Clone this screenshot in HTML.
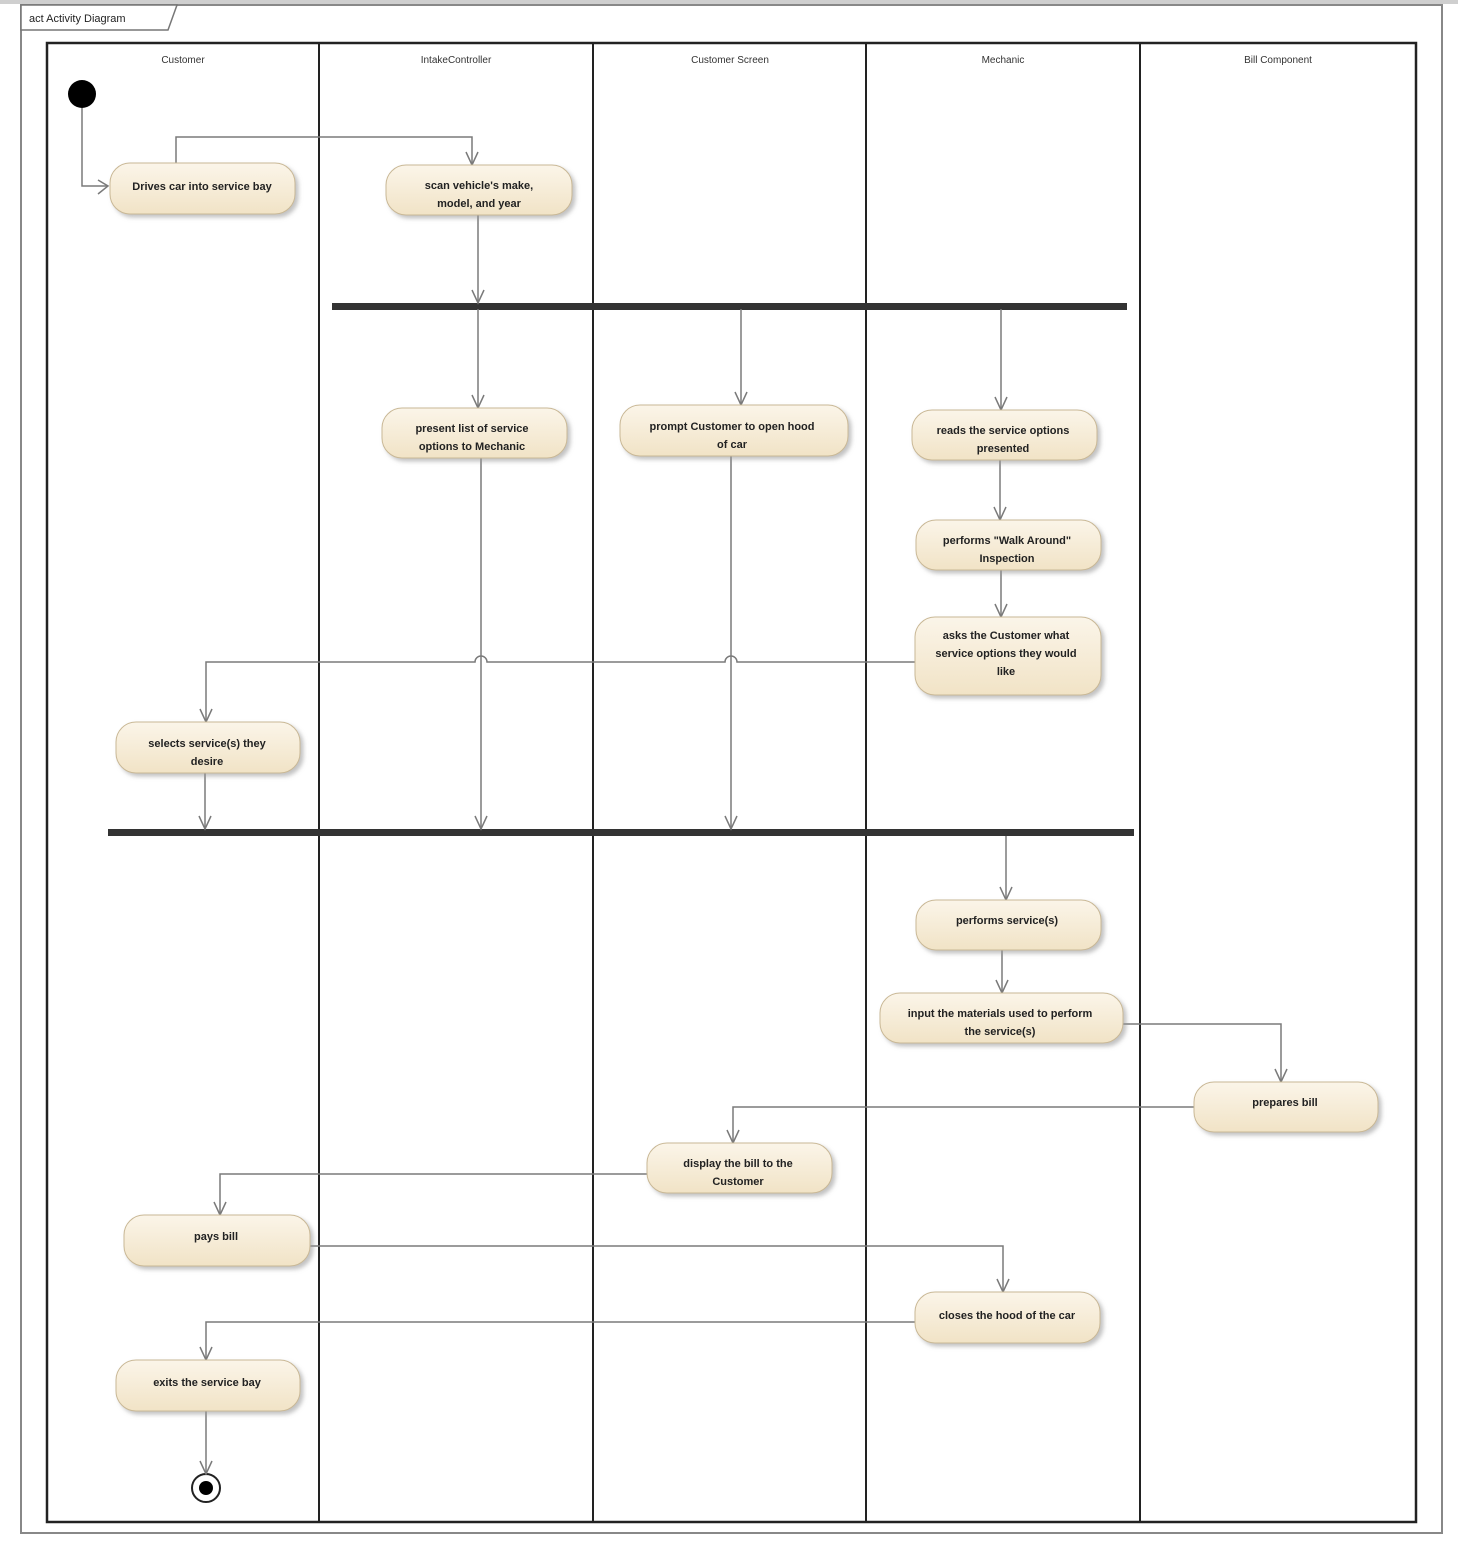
<!DOCTYPE html>
<html><head><meta charset="utf-8"><style>
html,body{margin:0;padding:0;background:#fff;}
svg{display:block;}
text{font-family:"Liberation Sans",sans-serif;}
</style></head><body>
<svg width="1458" height="1543" viewBox="0 0 1458 1543" xmlns="http://www.w3.org/2000/svg">
<defs>
<linearGradient id="g" x1="0" y1="0" x2="0" y2="1"><stop offset="0" stop-color="#fbf5e9"/><stop offset="1" stop-color="#f1e3c6"/></linearGradient>
<filter id="s" x="-10%" y="-20%" width="130%" height="160%"><feDropShadow dx="3" dy="3" stdDeviation="2" flood-color="#999" flood-opacity="0.6"/></filter>
</defs>
<rect x="0" y="0" width="1458" height="4" fill="#cfcfcf"/>
<rect x="21" y="5" width="1421" height="1528" fill="#fff" stroke="#888" stroke-width="2"/>
<path d="M21 5 H177 L168 30 H21 Z" fill="#fff" stroke="#777" stroke-width="1.5"/>
<text x="29" y="22" font-size="11" fill="#222">act Activity Diagram</text>
<rect x="47" y="43" width="1369" height="1479" fill="#fff" stroke="#222" stroke-width="2.5"/>
<g stroke="#222" stroke-width="2"><line x1="319" y1="43" x2="319" y2="1522"/><line x1="593" y1="43" x2="593" y2="1522"/><line x1="866" y1="43" x2="866" y2="1522"/><line x1="1140" y1="43" x2="1140" y2="1522"/></g>
<g font-size="10" fill="#333" text-anchor="middle">
<text x="183" y="63">Customer</text><text x="456" y="63">IntakeController</text><text x="730" y="63">Customer Screen</text><text x="1003" y="63">Mechanic</text><text x="1278" y="63">Bill Component</text></g>
<circle cx="82" cy="94" r="14" fill="#000"/>
<circle cx="206" cy="1488" r="14" fill="#fff" stroke="#222" stroke-width="2"/><circle cx="206" cy="1488" r="7" fill="#000"/>
<rect x="332" y="303" width="795" height="7" fill="#333"/>
<rect x="108" y="829" width="1026" height="7" fill="#333"/>
<g fill="none" stroke="#7a7a7a" stroke-width="1.5">
<path d="M82 108 V186 H108"/><path d="M98 180 L108 186 L98 194"/>
<path d="M176 163 V137 H472 V165"/>
<path d="M478 215 V303"/><path d="M478 309 V408"/><path d="M741 309 V405"/><path d="M1001 309 V410"/>
<path d="M1000 460 V520"/><path d="M1001 570 V617"/>
<path d="M915 662 H737 A6 6 0 0 0 725 662 H487 A6 6 0 0 0 475 662 H206 V722"/>
<path d="M481 458 V829"/><path d="M731 456 V829"/><path d="M205 773 V829"/>
<path d="M1006 836 V900"/><path d="M1002 950 V993"/>
<path d="M1123 1024 H1281 V1082"/>
<path d="M1194 1107 H733 V1143"/>
<path d="M647 1174 H220 V1215"/>
<path d="M310 1246 H1003 V1292"/>
<path d="M915 1322 H206 V1360"/>
<path d="M206 1411 V1474"/>
</g>
<g fill="none" stroke="#7a7a7a" stroke-width="1.5">
<path d="M466 152 L472 165 L478 152"/>
<path d="M472 290 L478 303 L484 290"/>
<path d="M472 395 L478 408 L484 395"/>
<path d="M735 392 L741 405 L747 392"/>
<path d="M995 397 L1001 410 L1007 397"/>
<path d="M994 507 L1000 520 L1006 507"/>
<path d="M995 604 L1001 617 L1007 604"/>
<path d="M200 709 L206 722 L212 709"/>
<path d="M475 816 L481 829 L487 816"/>
<path d="M725 816 L731 829 L737 816"/>
<path d="M199 816 L205 829 L211 816"/>
<path d="M1000 887 L1006 900 L1012 887"/>
<path d="M996 980 L1002 993 L1008 980"/>
<path d="M1275 1069 L1281 1082 L1287 1069"/>
<path d="M727 1130 L733 1143 L739 1130"/>
<path d="M214 1202 L220 1215 L226 1202"/>
<path d="M997 1279 L1003 1292 L1009 1279"/>
<path d="M200 1347 L206 1360 L212 1347"/>
<path d="M200 1461 L206 1474 L212 1461"/>
</g>
<g fill="url(#g)" stroke="#c9b896" stroke-width="1" filter="url(#s)">
<rect x="110" y="163" width="185" height="51" rx="20"/>
<rect x="386" y="165" width="186" height="50" rx="20"/>
<rect x="382" y="408" width="185" height="50" rx="20"/>
<rect x="620" y="405" width="228" height="51" rx="20"/>
<rect x="912" y="410" width="185" height="50" rx="20"/>
<rect x="916" y="520" width="185" height="50" rx="20"/>
<rect x="915" y="617" width="186" height="78" rx="20"/>
<rect x="116" y="722" width="184" height="51" rx="20"/>
<rect x="916" y="900" width="185" height="50" rx="20"/>
<rect x="880" y="993" width="243" height="50" rx="20"/>
<rect x="1194" y="1082" width="184" height="50" rx="20"/>
<rect x="647" y="1143" width="185" height="50" rx="20"/>
<rect x="124" y="1215" width="186" height="51" rx="20"/>
<rect x="915" y="1292" width="185" height="51" rx="20"/>
<rect x="116" y="1360" width="184" height="51" rx="20"/>
</g>
<g font-size="11" font-weight="bold" fill="#222" text-anchor="middle">
<text x="202" y="190">Drives car into service bay</text>
<text x="479" y="189">scan vehicle's make,</text><text x="479" y="207">model, and year</text>
<text x="472" y="432">present list of service</text><text x="472" y="450">options to Mechanic</text>
<text x="732" y="430">prompt Customer to open hood</text><text x="732" y="448">of car</text>
<text x="1003" y="434">reads the service options</text><text x="1003" y="452">presented</text>
<text x="1007" y="544">performs "Walk Around"</text><text x="1007" y="562">Inspection</text>
<text x="1006" y="639">asks the Customer what</text><text x="1006" y="657">service options they would</text><text x="1006" y="675">like</text>
<text x="207" y="747">selects service(s) they</text><text x="207" y="765">desire</text>
<text x="1007" y="924">performs service(s)</text>
<text x="1000" y="1017">input the materials used to perform</text><text x="1000" y="1035">the service(s)</text>
<text x="1285" y="1106">prepares bill</text>
<text x="738" y="1167">display the bill to the</text><text x="738" y="1185">Customer</text>
<text x="216" y="1240">pays bill</text>
<text x="1007" y="1319">closes the hood of the car</text>
<text x="207" y="1386">exits the service bay</text>
</g>
</svg>
</body></html>
